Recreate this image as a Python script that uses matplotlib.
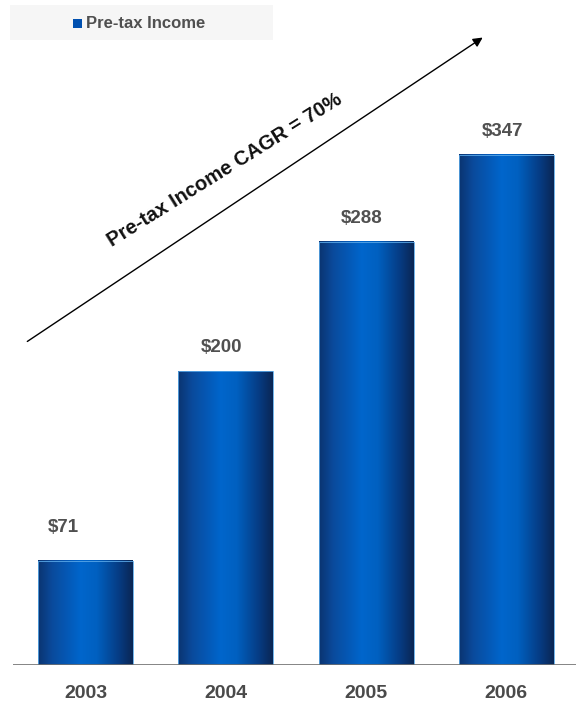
import numpy as np
import matplotlib
matplotlib.use("Agg")
import matplotlib.pyplot as plt
from matplotlib.colors import LinearSegmentedColormap
from matplotlib.patches import Rectangle

plt.rcParams["font.family"] = ["Liberation Sans", "DejaVu Sans"]

years = ["2003", "2004", "2005", "2006"]
pretax_income = [71, 200, 288, 347]
value_labels = ["$71", "$200", "$288", "$347"]
legend_label = "Pre-tax Income"
cagr_label = "Pre-tax Income CAGR = 70%"

BAR_WIDTH = 0.677
PX_PER_UNIT = 1.47
# nudges (x in bar units, y in value units) for the value labels
label_dx = [-0.16, -0.03, -0.03, -0.03]
label_dy = [17, 10, 10, 10]

# horizontal shading that makes each bar look like a cylinder
bar_cmap = LinearSegmentedColormap.from_list(
    "cylinder",
    [
        (0.00, "#0b3470"),
        (0.15, "#0a4a9c"),
        (0.45, "#0066cc"),
        (0.62, "#0060c0"),
        (0.85, "#063c84"),
        (1.00, "#0a2654"),
    ],
)

fig = plt.figure(figsize=(5.76, 7.04), dpi=100)
ax = fig.add_axes([13 / 576, 39 / 704, 563 / 576, 665 / 704])
ax.set_xlim(-0.517, -0.517 + 563 / 140.3)
ax.set_ylim(0, 665 / PX_PER_UNIT)
ax.axis("off")

gradient = np.linspace(0, 1, 256).reshape(1, -1)
for i, value in enumerate(pretax_income):
    x0 = i - BAR_WIDTH / 2
    x1 = i + BAR_WIDTH / 2
    ax.imshow(
        gradient,
        cmap=bar_cmap,
        extent=(x0, x1, 0, value),
        aspect="auto",
        interpolation="bilinear",
        zorder=2,
    )
    ax.add_patch(
        Rectangle((x0, 0), BAR_WIDTH, value, fill=False,
                  edgecolor="#5aa8e8", linewidth=0.6, zorder=3)
    )
    ax.text(i + label_dx[i], value + label_dy[i], value_labels[i],
            ha="center", va="bottom",
            fontsize=13.5, fontweight="bold", color="#505050")
    ax.text(i, -28 / PX_PER_UNIT, years[i], ha="center", va="center",
            fontsize=14, fontweight="bold", color="#4a4a4a", clip_on=False)

# baseline
ax.axhline(0, color="#707070", linewidth=1.2, zorder=4)

# legend strip
fig.patches.append(
    Rectangle((10 / 576, 1 - 40 / 704), 263 / 576, 35 / 704,
              transform=fig.transFigure, facecolor="#f6f6f6",
              edgecolor="none", zorder=0)
)
fig.patches.append(
    Rectangle((73 / 576, 1 - 28 / 704), 9 / 576, 9 / 704,
              transform=fig.transFigure, facecolor="#0050b0",
              edgecolor="none", zorder=1)
)
fig.text(86 / 576, 1 - 23 / 704, legend_label, ha="left", va="center",
         fontsize=12, fontweight="bold", color="#505050")

# growth arrow and CAGR note
ax.annotate(
    "",
    xy=(485 / 576, 1 - 36 / 704),
    xytext=(25 / 576, 1 - 343 / 704),
    xycoords="figure fraction",
    textcoords="figure fraction",
    arrowprops=dict(arrowstyle="-|>", color="black", linewidth=1.0,
                    mutation_scale=14),
)
fig.text(225 / 576, 1 - 170 / 704, cagr_label, ha="center", va="center",
         rotation=32, fontsize=14.5, fontweight="bold", color="#111111",
         rotation_mode="anchor")

fig.savefig("out.png", dpi=100, facecolor="white")
